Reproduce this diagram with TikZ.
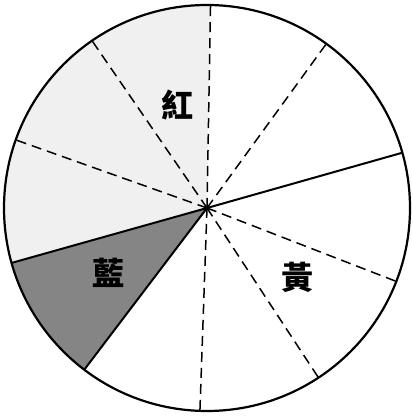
\documentclass[tikz,border=0pt]{standalone}
\usepackage{fontspec}
\newfontfamily\cjk{Noto Sans CJK TC}

\begin{document}
\begin{tikzpicture}[x=1pt, y=1pt,
    rim/.style={line width=2.2pt},
    border/.style={line width=2pt},
    guide/.style={line width=1.5pt, dash pattern=on 10pt off 6pt},
    lbl/.style={font=\cjk\bfseries\fontsize{32}{32}\selectfont}]
  \useasboundingbox (0,0) rectangle (412,420);
  \coordinate (o) at (207,212);
  % shaded sectors
  \fill[black!6] (o) -- ++(89:203) arc[start angle=89, end angle=195.7, radius=203] -- cycle;
  \fill[black!48] (o) -- ++(195.7:203) arc[start angle=195.7, end angle=232.8, radius=203] -- cycle;
  % dividing lines
  \foreach \a in {54,89,124.5,160.4,268,303.3,338.8}
    \draw[guide] (o) -- ++(\a:203);
  \foreach \a in {15.8,195.7,232.8}
    \draw[border] (o) -- ++(\a:203);
  \draw[rim] (o) circle[radius=203];
  % labels
  \node[lbl] (red) at (177,315) {紅};
  \node[lbl] (yellow) at (297,143) {黃};
  \node[lbl] (blue) at (108,147) {藍};
\end{tikzpicture}
\end{document}
